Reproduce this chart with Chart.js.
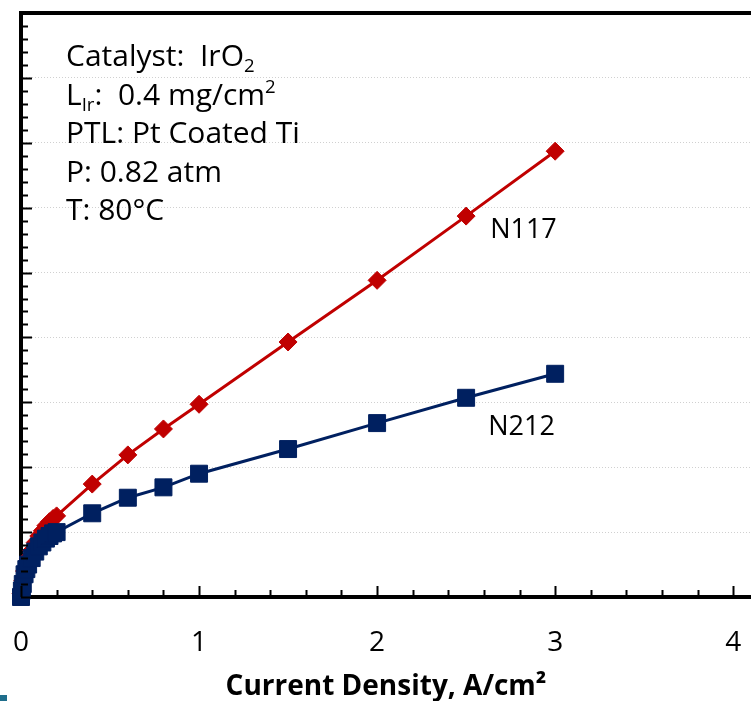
<!DOCTYPE html>
<html>
<head>
<meta charset="utf-8">
<script src="https://cdn.jsdelivr.net/npm/chart.js@4.4.1/dist/chart.umd.min.js"></script>
<style>
  html, body { margin: 0; padding: 0; background: #fff; overflow: hidden; }
  #wrap { position: relative; width: 751px; height: 701px; }
  #corner { position: absolute; left: 0; top: 695px; width: 7px; height: 6px; background: #1f6e8c; }
</style>
</head>
<body>
<div id="wrap">
  <canvas id="chart" width="751" height="701"></canvas>
  <div id="corner"></div>
</div>
<script>
// current density, A/cm2
const currentN117 = [0, 0.01, 0.02, 0.04, 0.06, 0.08, 0.1, 0.12, 0.14, 0.16, 0.18, 0.2, 0.4, 0.6, 0.8, 1, 1.5, 2, 2.5, 3];
const voltageN117 = [1.405, 1.425, 1.44, 1.46, 1.472, 1.484, 1.494, 1.502, 1.51, 1.516, 1.521, 1.525, 1.574, 1.619, 1.659, 1.697, 1.793, 1.888, 1.987, 2.087];

const currentN212 = [0, 0.005, 0.01, 0.02, 0.03, 0.04, 0.06, 0.08, 0.1, 0.12, 0.14, 0.16, 0.18, 0.2, 0.4, 0.6, 0.8, 1, 1.5, 2, 2.5, 3];
const voltageN212 = [1.4, 1.41, 1.42, 1.435, 1.443, 1.45, 1.46, 1.47, 1.478, 1.484, 1.49, 1.494, 1.498, 1.5, 1.529, 1.553, 1.569, 1.59, 1.628, 1.668, 1.707, 1.744];

const xTickValues = [0, 1, 2, 3, 4];
const notes = [
    [{ t: 'Catalyst:  IrO' }, { t: '2', sub: true }],
    [{ t: 'L' }, { t: 'Ir', sub: true }, { t: ':  0.4 mg/cm' }, { t: '2', sup: true }],
    [{ t: 'PTL: Pt Coated Ti' }],
    [{ t: 'P: 0.82 atm' }],
    [{ t: 'T: 80°C' }]
];

const FONT = '"Open Sans", sans-serif';

function toPoints(xs, ys) {
    return xs.map((x, i) => ({ x: x, y: ys[i] }));
}

function drawRich(ctx, parts, x, y, size) {
    parts.forEach(p => {
        const s = (p.sub || p.sup) ? size * 0.62 : size;
        ctx.font = s + 'px ' + FONT;
        let dy = 0;
        if (p.sub) dy = size * 0.2;
        if (p.sup) dy = -size * 0.38;
        ctx.fillText(p.t, x, y + dy);
        x += ctx.measureText(p.t).width;
    });
}

// inward ticks, top border and text notes
const decorations = {
    id: 'decorations',
    afterDraw(chart) {
        const { ctx, chartArea, scales } = chart;
        const xs = scales.x, ys = scales.y;
        ctx.save();
        ctx.strokeStyle = '#000';
        ctx.lineWidth = 2;
        ctx.beginPath();
        for (let i = 0; i <= 20; i++) {
            const v = i * 0.2;
            if (v > xs.max) break;
            const px = Math.round(xs.getPixelForValue(v)) + 0.5;
            const len = (i % 5 === 0) ? 11 : 7;
            ctx.moveTo(px, chartArea.bottom);
            ctx.lineTo(px, chartArea.bottom - len);
        }
        for (let i = 0; i <= 45; i++) {
            const v = ys.min + i * 0.02;
            const py = Math.round(ys.getPixelForValue(v)) + 0.5;
            const len = (i % 5 === 0) ? 11 : 7;
            ctx.moveTo(chartArea.left, py);
            ctx.lineTo(chartArea.left + len, py);
        }
        ctx.stroke();

        ctx.lineWidth = 4;
        ctx.beginPath();
        ctx.moveTo(chartArea.left - 2, chartArea.top);
        ctx.lineTo(chartArea.right, chartArea.top);
        ctx.stroke();

        ctx.fillStyle = '#000';
        ctx.textBaseline = 'alphabetic';
        notes.forEach((line, i) => {
            drawRich(ctx, line, 66, 66 + i * 38.5, 30);
        });

        ctx.font = '27px ' + FONT;
        ctx.fillText('N117', xs.getPixelForValue(2.635), ys.getPixelForValue(1.953));
        ctx.fillText('N212', xs.getPixelForValue(2.624), ys.getPixelForValue(1.650));
        ctx.restore();
    }
};

new Chart(document.getElementById('chart'), {
    type: 'scatter',
    data: {
        datasets: [
            {
                label: 'N212',
                data: toPoints(currentN212, voltageN212),
                showLine: true,
                borderColor: '#002060',
                backgroundColor: '#002060',
                borderWidth: 3,
                pointStyle: 'rect',
                pointRadius: 12,
                pointBorderWidth: 1,
                clip: false
            },
            {
                label: 'N117',
                data: toPoints(currentN117, voltageN117),
                showLine: true,
                borderColor: '#c00000',
                backgroundColor: '#c00000',
                borderWidth: 3,
                pointStyle: 'rectRot',
                pointRadius: 9,
                pointBorderWidth: 1,
                clip: false
            }
        ]
    },
    options: {
        responsive: false,
        animation: false,
        layout: { autoPadding: false, padding: { top: 13, right: 0, left: 0, bottom: 0 } },
        plugins: { legend: { display: false }, tooltip: { enabled: false } },
        scales: {
            x: {
                type: 'linear',
                min: 0,
                max: 4.1,
                afterFit: s => { s.height = 104; s.paddingLeft = 0; s.paddingRight = 0; },
                afterBuildTicks: s => { s.ticks = xTickValues.map(v => ({ value: v })); },
                ticks: { color: '#000', font: { family: FONT, size: 28 }, padding: 21, maxRotation: 0 },
                grid: { display: false },
                border: { display: true, color: '#000', width: 4 },
                title: {
                    display: true,
                    text: 'Current Density, A/cm²',
                    color: '#000',
                    font: { family: FONT, size: 28, weight: 'bold', lineHeight: 1 },
                    padding: { top: 0, bottom: 0 }
                }
            },
            y: {
                type: 'linear',
                min: 1.4,
                max: 2.3,
                afterFit: s => { s.width = 21; },
                ticks: { display: false, stepSize: 0.1 },
                grid: {
                    color: '#d0d0d0',
                    lineWidth: 1,
                    drawTicks: false
                },
                border: { display: true, color: '#000', width: 4, dash: [1, 2] }
            }
        }
    },
    plugins: [decorations]
});
</script>
</body>
</html>
